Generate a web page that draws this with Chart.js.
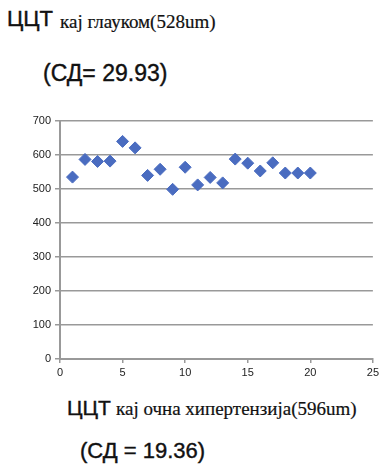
<!DOCTYPE html>
<html>
<head>
<meta charset="utf-8">
<script src="https://cdn.jsdelivr.net/npm/chart.js@4"></script>
<style>
  body { margin: 0; background: #fff; width: 382px; height: 467px; position: relative; overflow: hidden; }
  .lbl { position: absolute; white-space: nowrap; color: #111; line-height: 1; }
  .big { font-family: "Liberation Sans", sans-serif; -webkit-text-stroke: 0.4px #111; }
  .small { font-family: "Liberation Serif", serif; -webkit-text-stroke: 0.2px #111; }
  #wrap { position: absolute; left: 0; top: 100px; width: 382px; height: 290px; }
</style>
</head>
<body>
<div class="lbl big" style="left:7px; top:8px; font-size:22px;">ЦЦТ</div>
<div class="lbl small" style="left:60px; top:12px; font-size:19px;">кај глауком(528um)</div>
<div class="lbl big" style="left:43px; top:62px; font-size:23px;">(СД= 29.93)</div>
<div class="lbl big" style="left:67px; top:397px; font-size:21px;">ЦЦТ</div>
<div class="lbl small" style="left:116px; top:399px; font-size:19px;">кај очна хипертензија(596um)</div>
<div class="lbl big" style="left:80px; top:440px; font-size:22px;">(СД = 19.36)</div>
<div id="wrap"><canvas id="chart"></canvas></div>
<script>
// sample number and CCT values
const sampleNo = [1, 2, 3, 4, 5, 6, 7, 8, 9, 10, 11, 12, 13, 14, 15, 16, 17, 18, 19, 20];
const cctValues = [535, 587, 581, 582, 640, 621, 540, 558, 499, 564, 512, 534, 518, 588, 576, 553, 577, 547, 547, 547];
const xTicks = [0, 5, 10, 15, 20, 25];
const yTicks = [0, 100, 200, 300, 400, 500, 600, 700];

const points = sampleNo.map((x, i) => ({ x: x, y: cctValues[i] }));
const gridColor = "#999";
const tickFont = { family: "'Liberation Sans', sans-serif", size: 11 };

new Chart(document.getElementById("chart").getContext("2d"), {
  type: "scatter",
  data: {
    datasets: [
      {
        data: points,
        pointStyle: "rectRot",
        pointRadius: 6,
        backgroundColor: "#4a6cc0",
        borderColor: "#4a6cc0",
        borderWidth: 1,
      },
    ],
  },
  options: {
    responsive: true,
    maintainAspectRatio: false,
    animation: false,
    layout: { padding: { top: 21, right: 9, left: 0, bottom: 0 } },
    plugins: { legend: { display: false }, tooltip: { enabled: false } },
    scales: {
      x: {
        type: "linear",
        min: 0,
        max: 25,
        afterBuildTicks: (scale) => { scale.ticks = xTicks.map(v => ({ value: v })); },
        afterFit: (scale) => { scale.height = 31; },
        grid: { display: true, drawOnChartArea: false, color: gridColor, tickLength: 4, lineWidth: 1.5 },
        border: { color: gridColor, width: 2 },
        ticks: { color: "#222", font: tickFont, padding: 3, maxRotation: 0 },
      },
      y: {
        min: 0,
        max: 700,
        afterBuildTicks: (scale) => { scale.ticks = yTicks.map(v => ({ value: v })); },
        afterFit: (scale) => { scale.width = 60; },
        grid: { color: gridColor, tickLength: 5, lineWidth: 1.5 },
        border: { color: gridColor, width: 2 },
        ticks: { color: "#222", font: tickFont, padding: 4 },
      },
    },
  },
});
</script>
</body>
</html>
